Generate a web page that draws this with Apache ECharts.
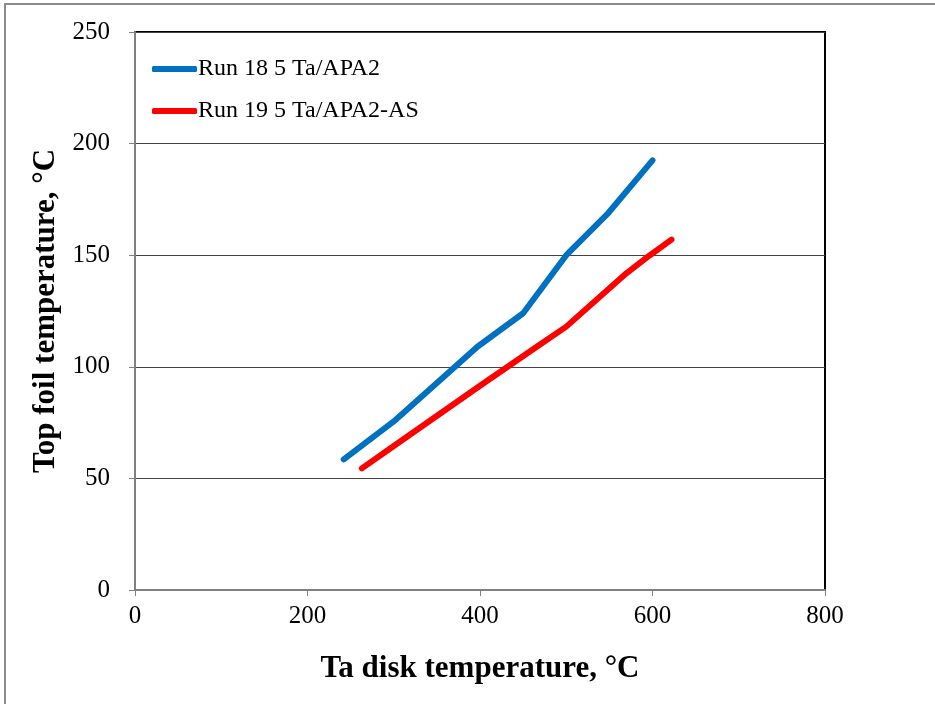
<!DOCTYPE html>
<html>
<head>
<meta charset="utf-8">
<script src="https://cdn.jsdelivr.net/npm/echarts@6/dist/echarts.min.js"></script>
<style>
html,body{margin:0;padding:0;background:#fff;}
#chart{width:935px;height:704px;}
</style>
</head>
<body>
<div id="chart"></div>
<script>
var seriesNames = ['Run 18 5 Ta/APA2', 'Run 19 5 Ta/APA2-AS'];
var run18 = [[242,58.5],[300,75.5],[397,109],[450,124],[500,150],[549,169],[600,192.5]];
var run19 = [[263,54.5],[300,64.5],[400,91.5],[462,108],[500,118],[570,142],[597,150],[622,157]];
var xTitle = 'Ta disk temperature, °C';
var yTitle = 'Top foil temperature, °C';

var font = 'Liberation Serif';
var chart = echarts.init(document.getElementById('chart'), null, {renderer:'canvas'});
chart.setOption({
  animation: false,
  backgroundColor: '#fff',
  graphic: [{
    type: 'rect', silent: true, z: 100,
    shape: {x: 5, y: 4, width: 1200, height: 1200},
    style: {fill: 'none', stroke: '#8c8c8c', lineWidth: 2}
  }],
  grid: {
    left: 135, right: 110, top: 32, bottom: 114,
    show: true, borderColor: '#000', borderWidth: 2, backgroundColor: '#fff'
  },
  legend: {
    left: 147, top: 52, orient: 'vertical',
    itemWidth: 45, itemHeight: 6, itemGap: 18,
    icon: 'roundRect',
    data: seriesNames,
    textStyle: {fontFamily: font, fontSize: 24, color: '#000', lineHeight: 24, padding: [0,0,0,-4]}
  },
  xAxis: {
    type: 'value', min: 0, max: 800, interval: 200,
    name: xTitle, nameLocation: 'middle', nameGap: 63,
    nameTextStyle: {fontFamily: font, fontSize: 31, fontWeight: 'bold', color: '#000'},
    axisLine: {show: true, lineStyle: {color: '#808080', width: 2}},
    axisTick: {show: true, length: 6, inside: false, lineStyle: {color: '#808080'}},
    axisLabel: {fontFamily: font, fontSize: 25, color: '#000', margin: 14},
    splitLine: {show: false}
  },
  yAxis: {
    type: 'value', min: 0, max: 250, interval: 50,
    name: yTitle, nameLocation: 'middle', nameGap: 74,
    nameTextStyle: {fontFamily: font, fontSize: 31, fontWeight: 'bold', color: '#000'},
    axisLine: {show: true, lineStyle: {color: '#808080', width: 2}},
    axisTick: {show: true, length: 6, inside: false, lineStyle: {color: '#808080'}},
    axisLabel: {fontFamily: font, fontSize: 25, color: '#000', margin: 25},
    splitLine: {show: true, lineStyle: {color: '#444', width: 1}}
  },
  series: [
    {name: seriesNames[0], type: 'line', data: run18, showSymbol: false, symbol: 'none',
     lineStyle: {color: '#0070C0', width: 6, cap: 'round', join: 'round'}, itemStyle: {color: '#0070C0'}},
    {name: seriesNames[1], type: 'line', data: run19, showSymbol: false, symbol: 'none',
     lineStyle: {color: '#FF0000', width: 6, cap: 'round', join: 'round'}, itemStyle: {color: '#FF0000'}}
  ]
});
</script>
</body>
</html>
